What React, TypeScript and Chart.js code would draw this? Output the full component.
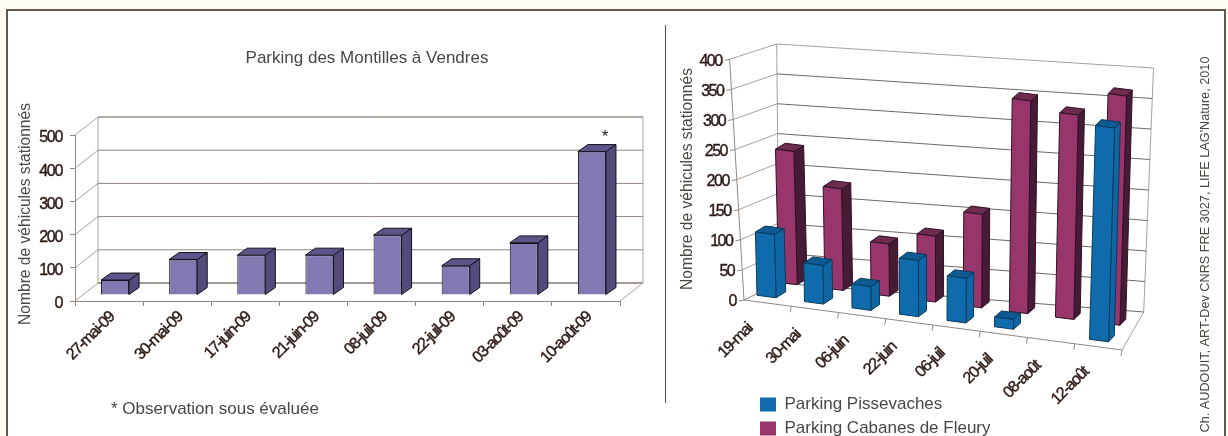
import React, { useEffect, useRef } from "react";
import { Chart, registerables } from "chart.js";

Chart.register(...registerables);

const leftCategories = ["27-mai-09", "30-mai-09", "17-juin-09", "21-juin-09", "08-juil-09", "22-juil-09", "03-août-09", "10-août-09"];
const leftValues = [45, 107, 120, 120, 180, 88, 157, 432];
const rightCategories = ["19-mai", "30-mai", "06-juin", "22-juin", "06-juil", "20-juil", "08-août", "12-août"];
const pissevaches = [105, 64, 39, 92, 73, 16, null, 346];
const cabanes = [221, 168, 86, 108, 153, 347, 332, 371];

const FONT = "'Liberation Sans', Arial, sans-serif";
const TEXT = "#4a4642";
const TICK = "#2b1a14";
const GRID = "#8f8780";

function poly(ctx: CanvasRenderingContext2D, pts: number[][], fill: string, stroke = "#15101c") {
  ctx.beginPath();
  pts.forEach((p, i) => (i ? ctx.lineTo(p[0], p[1]) : ctx.moveTo(p[0], p[1])));
  ctx.closePath();
  ctx.fillStyle = fill;
  ctx.fill();
  ctx.lineWidth = 1;
  ctx.strokeStyle = stroke;
  ctx.stroke();
}
function line(ctx: CanvasRenderingContext2D, a: number[], b: number[], color = GRID, w = 1) {
  ctx.beginPath();
  ctx.moveTo(a[0], a[1]);
  ctx.lineTo(b[0], b[1]);
  ctx.strokeStyle = color;
  ctx.lineWidth = w;
  ctx.stroke();
}

const WALL = { dx: 23, dy: 18 };
const SHIFT = { dx: 6, dy: -6 };
const DEPTH = { dx: 10, dy: -7 };

const leftPlugin = {
  id: "oblique3d",
  afterLayout(chart: any) {
    const ctx = chart.ctx;
    [chart.scales.x, chart.scales.y].forEach((s: any) => {
      if (s.__wrapped) return;
      s.__wrapped = true;
      const d = s.drawLabels.bind(s);
      s.drawLabels = (a: any) => {
        ctx.save();
        ctx.letterSpacing = "-1.3px";
        d(a);
        ctx.restore();
      };
    });
    const y = chart.scales.y;
    if (!y.__titleWrapped) {
      y.__titleWrapped = true;
      const t = y.drawTitle.bind(y);
      y.drawTitle = () => {
        ctx.save();
        ctx.translate(0, -4);
        t();
        ctx.restore();
      };
      chart.titleBlock.left += 57;
      chart.titleBlock.right += 57;
    }
  },
  beforeDatasetsDraw(chart: any) {
    const { ctx, chartArea: a, scales } = chart;
    const { dx, dy } = WALL;
    ctx.save();
    poly(ctx, [[a.left + dx, a.top - dy], [a.right + dx, a.top - dy], [a.right + dx, a.bottom - dy], [a.left + dx, a.bottom - dy]], "#ffffff", "#a8a099");
    scales.y.ticks.forEach((t: any) => {
      const y = scales.y.getPixelForValue(t.value);
      line(ctx, [a.left, y], [a.left + dx, y - dy], "#a8a099");
      line(ctx, [a.left + dx, y - dy], [a.right + dx, y - dy], t.value === 0 ? "#a39b94" : GRID, t.value === 0 ? 2 : 1);
    });
    line(ctx, [a.right, a.bottom], [a.right + dx, a.bottom - dy], "#a8a099");
    ctx.restore();
  },
  beforeDatasetDraw(chart: any) {
    chart.ctx.save();
    chart.ctx.translate(SHIFT.dx, SHIFT.dy);
  },
  afterDatasetDraw(chart: any, args: any) {
    const ctx = chart.ctx;
    chart.getDatasetMeta(args.index).data.forEach((el: any) => {
      const l = el.x - el.width / 2;
      const r = el.x + el.width / 2;
      poly(ctx, [[r, el.y], [r + DEPTH.dx, el.y + DEPTH.dy], [r + DEPTH.dx, el.base + DEPTH.dy], [r, el.base]], "#544a7c");
      poly(ctx, [[l, el.y], [l + DEPTH.dx, el.y + DEPTH.dy], [r + DEPTH.dx, el.y + DEPTH.dy], [r, el.y]], "#5d5489");
    });
    ctx.restore();
  },
  afterDraw(chart: any) {
    const { ctx } = chart;
    const el = chart.getDatasetMeta(0).data[leftValues.length - 1];
    ctx.save();
    ctx.fillStyle = "#222";
    ctx.font = `17px ${FONT}`;
    ctx.textAlign = "center";
    ctx.textBaseline = "middle";
    ctx.fillText("*", el.x + 19, el.y - 20);
    ctx.fillStyle = TEXT;
    ctx.font = `17px ${FONT}`;
    ctx.textAlign = "left";
    ctx.fillText("* Observation sous évaluée", 111, 409);
    ctx.restore();
  },
};

// Box walls of the perspective chart
const CORNERS = {
  flb: [744, 300], frb: [1122, 350], blb: [779, 283], brb: [1143.7, 312],
  flt: [729.6, 59.3], frt: [1134, 100], blt: [776.7, 44], brt: [1153.5, 68],
};
const mix = (a: number[], b: number[], t: number) => [a[0] + (b[0] - a[0]) * t, a[1] + (b[1] - a[1]) * t];
function project(u: number, v: number, w: number) {
  const C = CORNERS;
  const bottom = mix(mix(C.flb, C.frb, u), mix(C.blb, C.brb, u), w);
  const top = mix(mix(C.flt, C.frt, u), mix(C.blt, C.brt, u), w);
  return mix(bottom, top, v);
}
// Floor rails on which each series stands, and how a bar rises from them
const RAILS = [
  { a: [742.75, 293.4], b: [1122.75, 343.7] },
  { a: [765, 280.6], b: [1133.8, 327] },
];
const BAR_DEPTH = { left: [10, -6], right: [5.5, -6] };
function rise(u: number, v: number, p: number[]) {
  const lean = -7 + 15 * u;
  const h = 240.5 + 7 * u;
  return [p[0] + lean * v, p[1] - h * v];
}
const SERIES_FILL = [
  { front: "#0f6bab", side: "#0f66a4", top: "#0e5a92", edge: "#0b3a5c" },
  { front: "#98356a", side: "#471a36", top: "#6d2b4e", edge: "#2c1224" },
];

const rightPlugin = {
  id: "perspective3d",
  beforeDatasetsDraw(chart: any) {
    const { ctx, chartArea: a, scales } = chart;
    ctx.save();
    const vOf = (val: number) => (a.bottom - scales.y.getPixelForValue(val)) / a.height;
    const uOf = (x: number) => (x - a.left) / a.width;

    // Walls and floor
    line(ctx, project(0, 0, 1), project(0, 1, 1), "#a8a099");
    line(ctx, project(1, 0, 1), project(1, 1, 1), "#a8a099");
    line(ctx, project(0, 0, 0), project(0, 0, 1), "#a8a099");
    line(ctx, project(1, 0, 0), project(1, 0, 1), "#a8a099");
    scales.y.ticks.forEach((t: any) => {
      const v = vOf(t.value);
      line(ctx, project(0, v, 0), project(0, v, 1), "#a8a099");
      line(ctx, project(0, v, 1), project(1, v, 1), t.value === 400 ? "#a8a099" : "#6f6862");
      line(ctx, project(0, v, 0), [project(0, v, 0)[0] - 5, project(0, v, 0)[1] + 1], GRID);
      const p = project(0, v, 0);
      ctx.font = `16px ${FONT}`;
      ctx.letterSpacing = "-1.5px";
      ctx.textAlign = "right";
      ctx.textBaseline = "middle";
      ctx.fillStyle = TICK;
      ctx.strokeStyle = TICK;
      ctx.lineWidth = 0.4;
      ctx.fillText(String(t.value), p[0] - 8, p[1] + 2);
      ctx.strokeText(String(t.value), p[0] - 8, p[1] + 2);
      ctx.letterSpacing = "0px";
    });
    line(ctx, project(0, 0, 0), project(0, 1, 0), GRID);
    line(ctx, project(0, 0, 0), project(1, 0, 0), GRID);

    // Category ticks and labels along the front edge
    const n = rightCategories.length;
    const meta = chart.getDatasetMeta(1).data;
    const cw = a.width / n;
    meta.forEach((el: any, i: number) => {
      const e = uOf(el.x + cw / 2);
      const p = project(e, 0, 0);
      line(ctx, p, [p[0] - 1, p[1] + 6], GRID);
      const cu = uOf(el.x);
      const c = project(cu, 0, 0);
      ctx.save();
      ctx.translate(c[0] - 18 + 6 * cu, c[1] + 23);
      ctx.rotate(-Math.PI / 4);
      ctx.font = `16px ${FONT}`;
      ctx.letterSpacing = "-1.3px";
      ctx.textAlign = "right";
      ctx.textBaseline = "middle";
      ctx.fillStyle = TICK;
      ctx.strokeStyle = TICK;
      ctx.lineWidth = 0.4;
      ctx.fillText(rightCategories[i], 0, 0);
      ctx.strokeText(rightCategories[i], 0, 0);
      ctx.restore();
    });

    // Bars, back series first
    [1, 0].forEach((ds) => {
      const rail = RAILS[ds];
      const f = SERIES_FILL[ds];
      chart.getDatasetMeta(ds).data.forEach((el: any, i: number) => {
        const raw = chart.data.datasets[ds].data[i];
        if (raw === null || raw === undefined) return;
        const u0 = uOf(el.x - el.width / 2);
        const u1 = uOf(el.x + el.width / 2);
        const cu = uOf(el.x);
        const v = (a.bottom - el.y) / a.height;
        const d = mix(BAR_DEPTH.left, BAR_DEPTH.right, cu);
        const fl = mix(rail.a, rail.b, u0);
        const fr = mix(rail.a, rail.b, u1);
        const bl = [fl[0] + d[0], fl[1] + d[1]];
        const br = [fr[0] + d[0], fr[1] + d[1]];
        const T = (p: number[]) => rise(cu, v, p);
        poly(ctx, [fr, br, T(br), T(fr)], f.side, f.edge);
        poly(ctx, [T(fl), T(fr), T(br), T(bl)], f.top, f.edge);
        poly(ctx, [fl, fr, T(fr), T(fl)], f.front, f.edge);
      });
    });

    // Rotated axis title and credit
    ctx.fillStyle = TEXT;
    ctx.textAlign = "center";
    ctx.textBaseline = "middle";
    ctx.save();
    ctx.translate(688, 179);
    ctx.rotate(-Math.PI / 2);
    ctx.font = `15.6px ${FONT}`;
    ctx.fillText("Nombre de véhicules stationnés", 0, 0);
    ctx.restore();
    ctx.save();
    ctx.translate(1205, 244.5);
    ctx.rotate(-Math.PI / 2);
    ctx.font = `12.7px ${FONT}`;
    ctx.fillText("Ch. AUDOUIT, ART-Dev CNRS FRE 3027, LIFE LAG'Nature, 2010", 0, 0);
    ctx.restore();
    ctx.restore();
    return false;
  },
};

export default function App() {
  const leftRef = useRef<HTMLCanvasElement>(null);
  const rightRef = useRef<HTMLCanvasElement>(null);

  useEffect(() => {
    const left = new Chart(leftRef.current!, {
      type: "bar",
      data: {
        labels: leftCategories,
        datasets: [{
          label: "Parking des Montilles à Vendres",
          data: leftValues,
          backgroundColor: "#8278b2",
          borderColor: "#15101c",
          borderWidth: 1,
          barPercentage: 28 / 68,
          categoryPercentage: 1,
          clip: false,
        } as any],
      },
      options: {
        animation: false,
        responsive: false,
        layout: { padding: { left: 0, right: 44, top: 0, bottom: 0 } },
        plugins: {
          legend: { display: false },
          tooltip: { enabled: false },
          title: {
            display: true,
            text: "Parking des Montilles à Vendres",
            color: TEXT,
            font: { family: FONT, size: 17, weight: "normal", lineHeight: 1.2 },
            padding: { top: 48, bottom: 66.6 },
            align: "center",
          },
        },
        scales: {
          x: {
            offset: true,
            afterFit: (s: any) => { s.height = 135; },
            grid: { drawOnChartArea: false, color: GRID, tickLength: 5 },
            border: { color: GRID },
            ticks: {
              minRotation: 45,
              maxRotation: 45,
              color: TICK,
              textStrokeColor: TICK,
              textStrokeWidth: 0.4,
              padding: 2,
              labelOffset: 3,
              autoSkip: false,
              font: { family: FONT, size: 16 },
            },
          },
          y: {
            min: 0,
            max: 500,
            afterFit: (s: any) => { s.width = 75; },
            grid: { drawOnChartArea: false, color: GRID, tickLength: 5 },
            border: { color: GRID },
            title: {
              display: true,
              text: "Nombre de véhicules stationnés",
              color: TEXT,
              font: { family: FONT, size: 15.6, lineHeight: 1.2 },
              padding: { top: 16, bottom: 0 },
            },
            ticks: {
              stepSize: 100,
              color: TICK,
              textStrokeColor: TICK,
              textStrokeWidth: 0.4,
              padding: 8,
              labelOffset: 3,
              font: { family: FONT, size: 16 },
            },
          },
        },
      } as any,
      plugins: [leftPlugin],
    });

    const right = new Chart(rightRef.current!, {
      type: "bar",
      data: {
        labels: rightCategories,
        datasets: [
          { label: "Parking Pissevaches", data: pissevaches, backgroundColor: "#0f6bab", borderColor: "#0f6bab", barPercentage: 0.4, categoryPercentage: 1, grouped: false },
          { label: "Parking Cabanes de Fleury", data: cabanes, backgroundColor: "#98356a", borderColor: "#98356a", barPercentage: 0.4, categoryPercentage: 1, grouped: false },
        ] as any,
      },
      options: {
        animation: false,
        responsive: false,
        layout: { padding: { left: 753, right: 0, top: 0, bottom: 0 } },
        plugins: {
          tooltip: { enabled: false },
          title: { display: false },
          legend: {
            display: true,
            position: "left",
            align: "end",
            labels: {
              boxWidth: 16,
              boxHeight: 14,
              padding: 7,
              color: TEXT,
              font: { family: FONT, size: 17 },
            },
          },
        },
        scales: {
          x: { display: false, offset: true },
          y: { display: false, min: 0, max: 400, ticks: { stepSize: 50 } },
        },
      } as any,
      plugins: [rightPlugin],
    });

    return () => {
      left.destroy();
      right.destroy();
    };
  }, []);

  return (
    <div style={{ position: "fixed", left: 0, top: 0, width: 1228, height: 436, background: "#fffaf4", overflow: "hidden" }}>
      <div style={{ position: "absolute", left: 6, top: 9, width: 1220, height: 440, boxSizing: "border-box", background: "#fff", border: "2px solid #635850" }} />
      <div style={{ position: "absolute", left: 665, top: 25, width: 1, height: 378, background: "#55504c" }} />
      <canvas ref={leftRef} width={664} height={436} style={{ position: "absolute", left: 0, top: 0 }} />
      <canvas ref={rightRef} width={1228} height={444} style={{ position: "absolute", left: 0, top: 0 }} />
    </div>
  );
}
